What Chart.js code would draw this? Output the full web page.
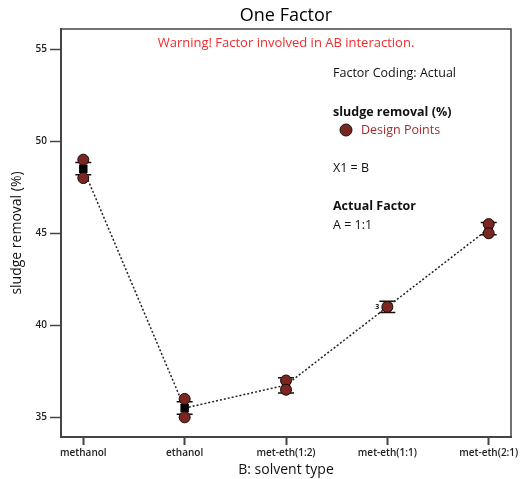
<!DOCTYPE html>
<html>
<head>
<meta charset="utf-8">
<script src="https://cdn.jsdelivr.net/npm/chart.js@4"></script>
<style>
  html, body { margin: 0; padding: 0; background: #fff; }
  #wrap { width: 521px; height: 479px; }
</style>
</head>
<body>
<div id="wrap"><canvas id="oneFactor" width="521" height="479"></canvas></div>
<script>
// ---- data ----
const solventTypes = ["methanol", "ethanol", "met-eth(1:2)", "met-eth(1:1)", "met-eth(2:1)"];
const meanRemoval = [48.5, 35.5, 36.75, 41.0, 45.25];
const ciLow = [48.18, 35.17, 36.32, 40.7, 44.92];
const ciHigh = [48.84, 35.84, 37.15, 41.3, 45.58];
const designPoints = [[49, 48], [36, 35], [37, 36.5], [41], [45.5, 45]];
const replicates = [0, 0, 0, 3, 0];
const yTicks = [35, 40, 45, 50, 55];

const FONT = "'Open Sans', 'Noto Sans', sans-serif";
const POINT_RED = "#7a2621";

const designData = [];
designPoints.forEach(function (pts, i) {
    pts.forEach(function (v) { designData.push({ x: i, y: v }); });
});
const meanData = meanRemoval.map(function (v, i) { return { x: i, y: v }; });

// error bars + frame + annotation text
const decorPlugin = {
    id: "decor",
    beforeDatasetsDraw: function (chart) {
        const ctx = chart.ctx;
        const xs = chart.scales.x, ys = chart.scales.y;
        ctx.save();
        ctx.strokeStyle = "#111";
        for (let i = 0; i < solventTypes.length; i++) {
            const px = xs.getPixelForValue(i);
            const top = ys.getPixelForValue(ciHigh[i]);
            const bot = ys.getPixelForValue(ciLow[i]);
            ctx.lineWidth = 2;
            ctx.beginPath();
            ctx.moveTo(px, top); ctx.lineTo(px, bot);
            ctx.stroke();
            ctx.lineWidth = 1.5;
            ctx.beginPath();
            ctx.moveTo(px - 8, top); ctx.lineTo(px + 8, top);
            ctx.moveTo(px - 8, bot); ctx.lineTo(px + 8, bot);
            ctx.stroke();
        }
        ctx.restore();
    },
    afterDraw: function (chart) {
        const ctx = chart.ctx;
        const a = chart.chartArea;
        const xs = chart.scales.x, ys = chart.scales.y;
        ctx.save();
        // top and right edges of the plot frame
        ctx.strokeStyle = "#444";
        ctx.lineWidth = 1.5;
        ctx.beginPath();
        ctx.moveTo(a.left, a.top); ctx.lineTo(a.right, a.top); ctx.lineTo(a.right, a.bottom);
        ctx.stroke();

        ctx.textBaseline = "middle";
        ctx.fillStyle = "#000";
        ctx.textAlign = "center";
        ctx.font = "18px " + FONT;
        ctx.fillText("One Factor", 286, 16);
        ctx.fillStyle = "#ee2b2b";
        ctx.font = "13px " + FONT;
        ctx.fillText("Warning! Factor involved in AB interaction.", 286, 43);

        ctx.textAlign = "left";
        ctx.fillStyle = "#111";
        ctx.font = "12.5px " + FONT;
        ctx.fillText("Factor Coding: Actual", 333, 73);
        ctx.font = "bold 12.5px " + FONT;
        ctx.fillText("sludge removal (%)", 333, 112);
        ctx.beginPath();
        ctx.arc(346, 130, 6, 0, Math.PI * 2);
        ctx.fillStyle = POINT_RED;
        ctx.fill();
        ctx.lineWidth = 1;
        ctx.strokeStyle = "#111";
        ctx.stroke();
        ctx.fillStyle = "#a52a2a";
        ctx.font = "12.5px " + FONT;
        ctx.fillText("Design Points", 361, 130);
        ctx.fillStyle = "#111";
        ctx.fillText("X1 = B", 333, 168);
        ctx.font = "bold 12.5px " + FONT;
        ctx.fillText("Actual Factor", 333, 206);
        ctx.font = "12.5px " + FONT;
        ctx.fillText("A = 1:1", 333, 225);

        // replicate counts
        ctx.font = "bold 7px " + FONT;
        ctx.textAlign = "right";
        replicates.forEach(function (n, i) {
            if (n > 1) {
                ctx.fillText(String(n), xs.getPixelForValue(i) - 8, ys.getPixelForValue(meanRemoval[i]));
            }
        });
        ctx.restore();
    }
};

new Chart(document.getElementById("oneFactor"), {
    type: "scatter",
    data: {
        datasets: [
            {
                label: "Design Points",
                data: designData,
                pointStyle: "circle",
                pointRadius: 5.5,
                backgroundColor: POINT_RED,
                borderColor: "#1a0a08",
                borderWidth: 1
            },
            {
                label: "Mean",
                data: meanData,
                pointStyle: "rect",
                pointRadius: 6,
                backgroundColor: "#000",
                borderColor: "#000",
                borderWidth: 0
            },
            {
                type: "line",
                label: "Prediction",
                data: meanData,
                borderColor: "#222",
                borderWidth: 1.5,
                borderDash: [2, 2],
                pointRadius: 0,
                tension: 0,
                fill: false
            }
        ]
    },
    options: {
        responsive: false,
        animation: false,
        layout: { padding: { top: 29, right: 10, left: 0, bottom: 0 } },
        plugins: {
            legend: { display: false },
            tooltip: { enabled: false }
        },
        scales: {
            x: {
                type: "linear",
                min: -0.22,
                max: 4.22,
                afterFit: function (s) { s.height = 42; },
                afterBuildTicks: function (s) {
                    s.ticks = solventTypes.map(function (c, i) { return { value: i }; });
                },
                ticks: {
                    padding: 2,
                    color: "#222",
                    font: { family: FONT, size: 10, weight: "600" },
                    maxRotation: 0,
                    autoSkip: false,
                    callback: function (v) { return solventTypes[v]; }
                },
                grid: { drawOnChartArea: false, tickLength: 8, tickWidth: 2, tickColor: "#444" },
                border: { color: "#444", width: 2 },
                title: {
                    display: true,
                    text: "B: solvent type",
                    color: "#111",
                    font: { family: FONT, size: 14 },
                    padding: { top: 0, bottom: 1 }
                }
            },
            y: {
                min: 33.93,
                max: 56.1,
                afterFit: function (s) { s.width = 61; },
                afterBuildTicks: function (s) {
                    s.ticks = yTicks.map(function (v) { return { value: v }; });
                },
                ticks: {
                    padding: 3,
                    color: "#222",
                    font: { family: FONT, size: 10, weight: "600" }
                },
                grid: { drawOnChartArea: false, tickLength: 11, tickWidth: 1.5, tickColor: "#444" },
                border: { color: "#444", width: 2 },
                title: {
                    display: true,
                    text: "sludge removal (%)",
                    color: "#111",
                    font: { family: FONT, size: 14 },
                    padding: { top: 9, bottom: 0 }
                }
            }
        }
    },
    plugins: [decorPlugin]
});
</script>
</body>
</html>
